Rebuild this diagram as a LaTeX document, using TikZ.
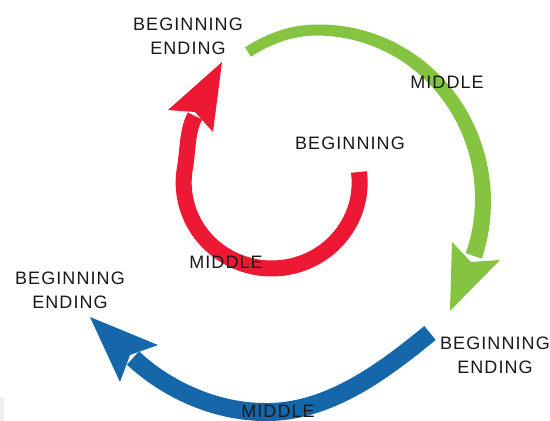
\documentclass[tikz,border=0pt]{standalone}
\usepackage{fontspec}
\newfontfamily\lblfont[LetterSpace=6]{Liberation Sans}
\definecolor{cred}{RGB}{236,24,52}
\definecolor{cgreen}{RGB}{132,196,65}
\definecolor{cblue}{RGB}{22,103,170}
\begin{document}
\begin{tikzpicture}[x=1pt,y=-1pt,
  lbl/.style={font=\lblfont\fontsize{18}{24}\selectfont, align=center, inner sep=0pt, text=black!90},
  swirl/.style={line width=#1},
]
\useasboundingbox[fill=white] (0,0) rectangle (550,421);
\fill[gray!12] (0,397) rectangle (4,421);
% named points
\coordinate (gS) at (248,52);
\coordinate (gTop) at (318,30);
\coordinate (gT) at (450,311);
\coordinate (rS) at (359,172);
\coordinate (rL) at (185,167);
\coordinate (rE) at (195,116);
\coordinate (rT) at (222,62);
\coordinate (bS) at (430,333);
\coordinate (bBot) at (265,412);
\coordinate (bE) at (133,358);
\coordinate (bT) at (90,317);
% green arrow: thin start, then widening arc
\draw[swirl=11pt, cgreen] (gS) .. controls (270,38) and (292,30) .. (gTop);
\fill[cgreen]
  plot[domain=-90:19.2, samples=60] ({318+(165+5.5+3*(\x+90)/109.2)*cos(\x)}, {200+(170+5.5+3*(\x+90)/109.2)*sin(\x)})
  -- plot[domain=19.2:-90, samples=60] ({318+(165-5.5-3*(\x+90)/109.2)*cos(\x)}, {200+(170-5.5-3*(\x+90)/109.2)*sin(\x)})
  -- cycle;
\fill[cgreen] (gT) -- (452,242) -- (471,262) -- (500,260) -- cycle;
% red arrow
\draw[swirl=16pt, cred] (rS) arc[start angle=-7, end angle=190, x radius=88, y radius=86]
  .. controls (188,150) and (187,131) .. (rE);
\fill[cred] (rT) -- (213,132) -- (195,112) -- (168,110) -- cycle;
% blue arrow
\draw[swirl=18pt, cblue] (bS) .. controls (387,368) and (330,413) .. (bBot)
  .. controls (215,412) and (166,389) .. (bE);
\fill[cblue] (bT) -- (158,345) -- (130,355) -- (120,382) -- cycle;
% labels
\node[lbl] (tTop) at (188,36) {BEGINNING\\ENDING};
\node[lbl] (tMidG) at (447,82) {MIDDLE};
\node[lbl] (tCen) at (350,143) {BEGINNING};
\node[lbl] (tMidR) at (226,262) {MIDDLE};
\node[lbl] (tLeft) at (70,290) {BEGINNING\\ENDING};
\node[lbl] (tRight) at (495,355) {BEGINNING\\ENDING};
\node[lbl] (tMidB) at (278,411) {MIDDLE};
\end{tikzpicture}
\end{document}
